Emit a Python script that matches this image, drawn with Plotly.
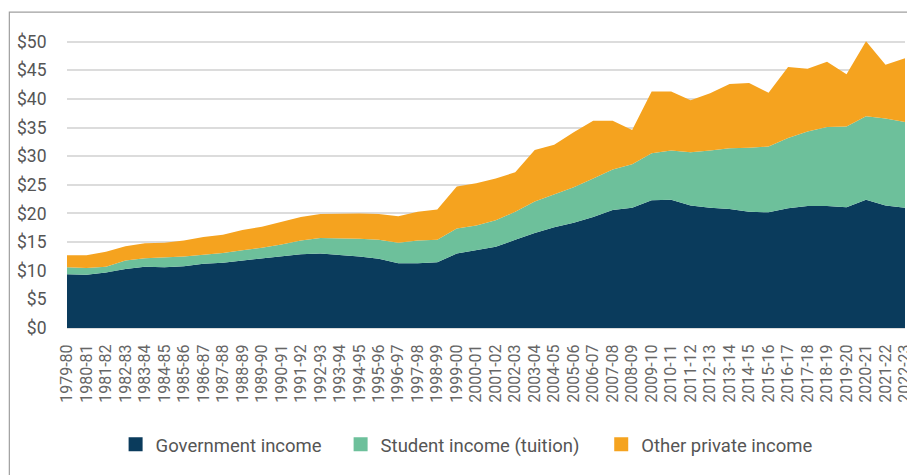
import plotly.graph_objects as go

years = ["1979-80","1980-81","1981-82","1982-83","1983-84","1984-85","1985-86","1986-87",
         "1987-88","1988-89","1989-90","1990-91","1991-92","1992-93","1993-94","1994-95",
         "1995-96","1996-97","1997-98","1998-99","1999-00","2000-01","2001-02","2002-03",
         "2003-04","2004-05","2005-06","2006-07","2007-08","2008-09","2009-10","2010-11",
         "2011-12","2012-13","2013-14","2014-15","2015-16","2016-17","2017-18","2018-19",
         "2019-20","2020-21","2021-22","2022-23"]

government = [9.4, 9.3, 9.7, 10.3, 10.7, 10.6, 10.8, 11.2, 11.4, 11.8, 12.1, 12.5, 12.9, 13.0,
              12.8, 12.5, 12.1, 11.3, 11.3, 11.5, 13.0, 13.6, 14.2, 15.4, 16.6, 17.6, 18.4, 19.4,
              20.6, 21.0, 22.3, 22.4, 21.4, 21.0, 20.8, 20.3, 20.2, 20.9, 21.3, 21.3, 21.1, 22.4,
              21.4, 21.0]

student = [1.2, 1.2, 1.0, 1.5, 1.5, 1.7, 1.7, 1.6, 1.7, 1.8, 1.9, 2.1, 2.4, 2.7, 2.9, 3.1,
           3.3, 3.6, 4.0, 3.9, 4.4, 4.3, 4.6, 4.9, 5.5, 5.8, 6.2, 6.7, 7.1, 7.6, 8.2, 8.6,
           9.3, 10.0, 10.6, 11.2, 11.5, 12.3, 13.0, 13.8, 14.1, 14.6, 15.2, 15.0]

other = [2.1, 2.2, 2.6, 2.5, 2.6, 2.6, 2.8, 3.1, 3.2, 3.5, 3.7, 3.9, 4.1, 4.2, 4.3, 4.4,
         4.5, 4.6, 5.0, 5.3, 7.3, 7.4, 7.3, 6.9, 9.0, 8.6, 9.6, 10.1, 8.5, 6.0, 10.8, 10.3,
         9.1, 10.0, 11.2, 11.3, 9.4, 12.4, 11.0, 11.4, 9.1, 13.1, 9.4, 11.1]

series_names = ["Government income", "Student income (tuition)", "Other private income"]
series_colors = ["#0a3b5c", "#6dc09b", "#f5a31f"]
series_values = [government, student, other]
legend_ids = ["legend", "legend2", "legend3"]
legend_x = [0.058, 0.3265, 0.6375]

fig = go.Figure()
for name, color, vals in zip(series_names, series_colors, series_values):
    fig.add_trace(go.Scatter(
        x=years, y=vals, name=name, mode="lines", stackgroup="one",
        line=dict(width=0, color=color), fillcolor=color, showlegend=False,
        hoverinfo="x+y+name"))
# legend entries as small squares
for name, color, lid in zip(series_names, series_colors, legend_ids):
    fig.add_trace(go.Scatter(
        x=[None], y=[None], name=name, mode="markers", legend=lid,
        marker=dict(symbol="square", size=14, color=color), showlegend=True))

# border box around chart
fig.add_shape(type="rect", xref="paper", yref="paper",
              x0=-0.0688, x1=1.2, y0=-0.7, y1=1.0817,
              line=dict(color="#a0a0a0", width=1.2), fillcolor="rgba(0,0,0,0)", layer="below")

legend_common = dict(orientation="h", xanchor="left", y=-0.4, yanchor="middle",
                     font=dict(size=18.5, color="#555555"), itemwidth=30,
                     bgcolor="rgba(0,0,0,0)")

# page body has an 8px margin, so the figure is offset by 8px right and down
fig.update_layout(
    width=907, height=467,
    margin=dict(l=59, r=10, t=28, b=147),
    paper_bgcolor="white", plot_bgcolor="white",
    font=dict(family="Roboto", color="#555555"),
    xaxis=dict(type="category", range=[0, 43], tickangle=-90, automargin=False,
               tickmode="linear", tick0=0, dtick=1,
               tickfont=dict(size=16, color="#666666"),
               ticks="outside", ticklen=9, tickcolor="rgba(0,0,0,0)",
               showgrid=False, showline=False, zeroline=False),
    yaxis=dict(range=[0, 51], dtick=5, tickprefix="$", automargin=False,
               tickfont=dict(size=17.5, color="#555555"),
               ticks="outside", ticklen=16, tickcolor="rgba(0,0,0,0)",
               showgrid=True, gridcolor="#dcdcdc", gridwidth=1.5,
               zeroline=True, zerolinecolor="#dcdcdc", zerolinewidth=1.5,
               showline=False),
    legend=dict(x=legend_x[0], **legend_common),
    legend2=dict(x=legend_x[1], **legend_common),
    legend3=dict(x=legend_x[2], **legend_common),
)

fig.write_html("out.html")
